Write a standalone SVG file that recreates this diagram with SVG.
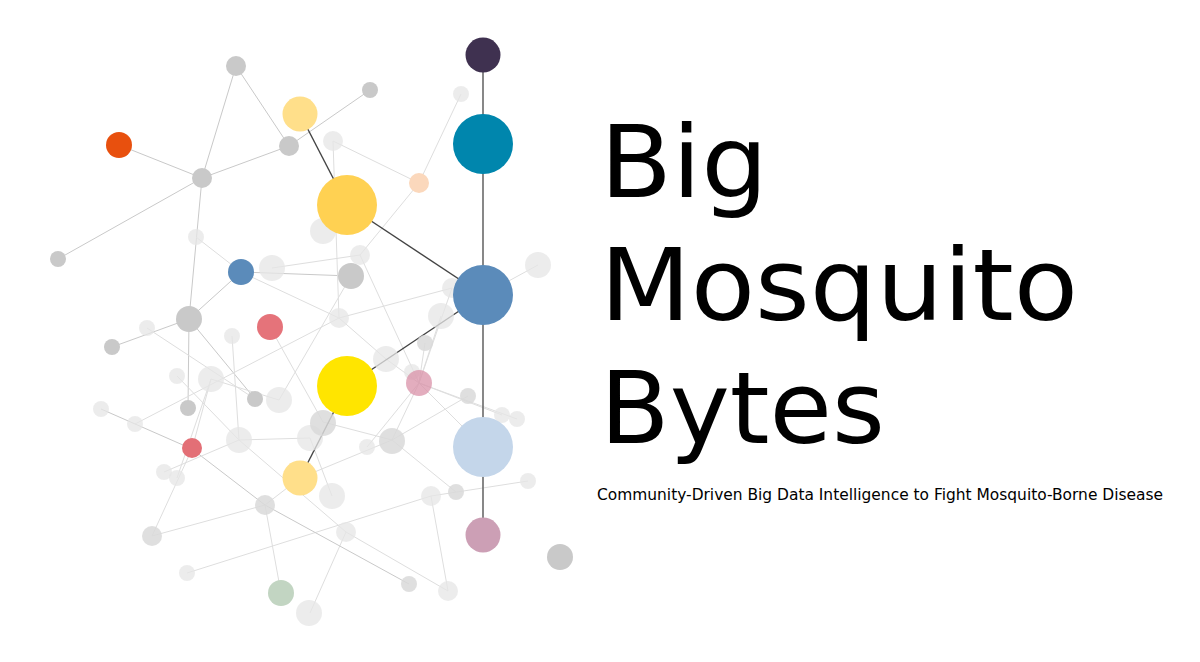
<svg xmlns="http://www.w3.org/2000/svg" width="1200" height="662" viewBox="0 0 1200 662">
<style>
.e{stroke:#c9c9c9;stroke-width:1;fill:none}
.f{stroke:#dedede;stroke-width:1;fill:none}
.d{stroke:#444;stroke-width:1.4;fill:none}
.v{stroke:#6a6a6a;stroke-width:1.6;fill:none}
.g{fill:#c9c9c9}
.m{fill:#d9d9d9;opacity:.85}
.l{fill:#e6e6e6;opacity:.75}
.t{font-family:"DejaVu Sans","Liberation Sans",sans-serif;fill:#000}
</style>
<rect width="1200" height="662" fill="#fff"/>
<g id="connectors">
<line class="e" x1="236" y1="66" x2="202" y2="178"/>
<line class="e" x1="236" y1="66" x2="289" y2="146"/>
<line class="e" x1="119" y1="145" x2="202" y2="178"/>
<line class="e" x1="202" y1="178" x2="289" y2="146"/>
<line class="e" x1="289" y1="146" x2="370" y2="90"/>
<line class="e" x1="202" y1="178" x2="58" y2="259"/>
<line class="e" x1="202" y1="178" x2="189" y2="319"/>
<line class="e" x1="189" y1="319" x2="241" y2="272"/>
<line class="e" x1="189" y1="319" x2="112" y2="347"/>
<line class="e" x1="189" y1="319" x2="188" y2="408"/>
<line class="e" x1="189" y1="319" x2="255" y2="399"/>
<line class="e" x1="241" y1="272" x2="351" y2="276"/>
<line class="f" x1="196" y1="237" x2="241" y2="272"/>
<line class="f" x1="241" y1="272" x2="339" y2="318"/>
<line class="f" x1="272" y1="268" x2="360" y2="255"/>
<line class="f" x1="351" y1="276" x2="279" y2="400"/>
<line class="f" x1="333" y1="141" x2="419" y2="183"/>
<line class="f" x1="333" y1="141" x2="339" y2="318"/>
<line class="f" x1="461" y1="94" x2="419" y2="183"/>
<line class="f" x1="419" y1="183" x2="360" y2="255"/>
<line class="f" x1="360" y1="255" x2="419" y2="383"/>
<line class="f" x1="135" y1="424" x2="339" y2="318"/>
<line class="f" x1="339" y1="318" x2="452" y2="288"/>
<line class="f" x1="339" y1="318" x2="386" y2="359"/>
<line class="f" x1="386" y1="359" x2="419" y2="383"/>
<line class="f" x1="538" y1="265" x2="483" y2="295"/>
<line class="f" x1="441" y1="316" x2="419" y2="383"/>
<line class="f" x1="425" y1="343" x2="419" y2="383"/>
<line class="f" x1="452" y1="288" x2="419" y2="383"/>
<line class="f" x1="419" y1="383" x2="367" y2="447"/>
<line class="f" x1="419" y1="383" x2="392" y2="440"/>
<line class="f" x1="419" y1="383" x2="483" y2="447"/>
<line class="f" x1="419" y1="383" x2="502" y2="415"/>
<line class="f" x1="419" y1="383" x2="517" y2="419"/>
<line class="f" x1="300" y1="478" x2="392" y2="440"/>
<line class="f" x1="392" y1="440" x2="468" y2="396"/>
<line class="f" x1="323" y1="422" x2="392" y2="440"/>
<line class="f" x1="392" y1="440" x2="456" y2="492"/>
<line class="f" x1="431" y1="496" x2="528" y2="481"/>
<line class="f" x1="187" y1="573" x2="431" y2="496"/>
<line class="f" x1="431" y1="496" x2="448" y2="591"/>
<line class="f" x1="346" y1="532" x2="310" y2="613"/>
<line class="f" x1="346" y1="532" x2="448" y2="591"/>
<line class="e" x1="265" y1="505" x2="409" y2="584"/>
<line class="f" x1="265" y1="505" x2="152" y2="536"/>
<line class="f" x1="152" y1="536" x2="192" y2="449"/>
<line class="f" x1="265" y1="505" x2="281" y2="593"/>
<line class="f" x1="265" y1="505" x2="300" y2="478"/>
<line class="e" x1="192" y1="449" x2="265" y2="505"/>
<line class="e" x1="101" y1="409" x2="192" y2="449"/>
<line class="f" x1="192" y1="449" x2="211" y2="379"/>
<line class="f" x1="164" y1="472" x2="239" y2="440"/>
<line class="f" x1="239" y1="440" x2="310" y2="438"/>
<line class="f" x1="239" y1="440" x2="346" y2="532"/>
<line class="f" x1="232" y1="336" x2="239" y2="440"/>
<line class="f" x1="177" y1="376" x2="239" y2="440"/>
<line class="f" x1="211" y1="379" x2="177" y2="478"/>
<line class="f" x1="211" y1="379" x2="279" y2="400"/>
<line class="f" x1="147" y1="328" x2="255" y2="399"/>
<line class="f" x1="270" y1="327" x2="323" y2="422"/>
<line class="f" x1="310" y1="438" x2="332" y2="496"/>
</g>
<g id="spine">
<line class="v" x1="483" y1="55" x2="483" y2="535"/>
<line class="d" x1="300" y1="114" x2="347" y2="205"/>
<line class="d" x1="347" y1="205" x2="483" y2="295"/>
<line class="d" x1="483" y1="295" x2="347" y2="386"/>
<line class="d" x1="347" y1="386" x2="300" y2="478"/>
</g>
<g id="nodes-light">
<circle class="l" cx="461" cy="94" r="8"/>
<circle class="l" cx="333" cy="141" r="10"/>
<circle class="l" cx="196" cy="237" r="8"/>
<circle class="l" cx="323" cy="231" r="13"/>
<circle class="l" cx="272" cy="268" r="13"/>
<circle class="l" cx="360" cy="255" r="10"/>
<circle class="l" cx="538" cy="265" r="13"/>
<circle class="l" cx="452" cy="288" r="10"/>
<circle class="l" cx="441" cy="316" r="13"/>
<circle class="l" cx="339" cy="318" r="10"/>
<circle class="m" cx="425" cy="343" r="8"/>
<circle class="l" cx="386" cy="359" r="13"/>
<circle class="l" cx="412" cy="372" r="8"/>
<circle class="l" cx="147" cy="328" r="8"/>
<circle class="l" cx="232" cy="336" r="8"/>
<circle class="l" cx="177" cy="376" r="8"/>
<circle class="l" cx="211" cy="379" r="13"/>
<circle class="l" cx="279" cy="400" r="13"/>
<circle class="l" cx="101" cy="409" r="8"/>
<circle class="l" cx="135" cy="424" r="8"/>
<circle class="m" cx="468" cy="396" r="8"/>
<circle class="l" cx="502" cy="415" r="8"/>
<circle class="l" cx="517" cy="419" r="8"/>
<circle class="l" cx="239" cy="440" r="13"/>
<circle class="l" cx="310" cy="438" r="13"/>
<circle class="m" cx="323" cy="423" r="13"/>
<circle class="m" cx="392" cy="441" r="13"/>
<circle class="l" cx="367" cy="447" r="8"/>
<circle class="l" cx="164" cy="472" r="8"/>
<circle class="l" cx="177" cy="478" r="8"/>
<circle class="l" cx="332" cy="496" r="13"/>
<circle class="m" cx="265" cy="505" r="10"/>
<circle class="l" cx="431" cy="496" r="10"/>
<circle class="m" cx="456" cy="492" r="8"/>
<circle class="l" cx="528" cy="481" r="8"/>
<circle class="m" cx="152" cy="536" r="10"/>
<circle class="l" cx="346" cy="532" r="10"/>
<circle class="l" cx="187" cy="573" r="8"/>
<circle class="m" cx="409" cy="584" r="8"/>
<circle class="l" cx="448" cy="591" r="10"/>
<circle class="l" cx="309" cy="613" r="13"/>
</g>
<g id="nodes-gray">
<circle class="g" cx="236" cy="66" r="10"/>
<circle class="g" cx="370" cy="90" r="8"/>
<circle class="g" cx="289" cy="146" r="10"/>
<circle class="g" cx="202" cy="178" r="10"/>
<circle class="g" cx="58" cy="259" r="8"/>
<circle class="g" cx="189" cy="319" r="13"/>
<circle class="g" cx="112" cy="347" r="8"/>
<circle class="g" cx="188" cy="408" r="8"/>
<circle class="g" cx="255" cy="399" r="8"/>
<circle class="g" cx="351" cy="276" r="13"/>
<circle class="g" cx="560" cy="557" r="13"/>
</g>
<g id="nodes-colour">
<circle id="n-orange" cx="119" cy="145" r="13" fill="#e8500e"/>
<circle id="n-blue-s" cx="241" cy="272" r="13" fill="#5b8bba"/>
<circle id="n-red" cx="270" cy="327" r="13" fill="#e5737a"/>
<circle id="n-red-s" cx="192" cy="448" r="10" fill="#e36f76"/>
<circle id="n-peach" cx="419" cy="183" r="10" fill="#fbd8bc"/>
<circle id="n-pink" cx="419" cy="383" r="13" fill="#d991a8" opacity=".75"/>
<circle id="n-green" cx="281" cy="593" r="13" fill="#c2d5c2"/>
<circle id="n-ly1" cx="300" cy="114" r="17.5" fill="#ffdf8a"/>
<circle id="n-yo" cx="347" cy="205" r="30" fill="#ffd152"/>
<circle id="n-yel" cx="347" cy="386" r="30" fill="#ffe500"/>
<circle id="n-ly2" cx="300" cy="478" r="17.5" fill="#ffdf8a"/>
<circle id="n-purple" cx="483" cy="55" r="17.5" fill="#3f3150"/>
<circle id="n-teal" cx="483" cy="144" r="30" fill="#0086ad"/>
<circle id="n-blue" cx="483" cy="295" r="30" fill="#5b8bba"/>
<circle id="n-lblue" cx="483" cy="447" r="30" fill="#c4d6ea"/>
<circle id="n-mauve" cx="483" cy="535" r="17.5" fill="#cc9fb5"/>
</g>
<g id="title">
<text class="t" x="600" y="197" font-size="99" textLength="168" lengthAdjust="spacingAndGlyphs">Big</text>
<text class="t" x="600" y="320" font-size="99" textLength="478" lengthAdjust="spacingAndGlyphs">Mosquito</text>
<text class="t" x="600" y="443" font-size="99" textLength="285" lengthAdjust="spacingAndGlyphs">Bytes</text>
<text class="t" x="597" y="500" font-size="15" textLength="566" lengthAdjust="spacingAndGlyphs">Community-Driven Big Data Intelligence to Fight Mosquito-Borne Disease</text>
</g>
</svg>
